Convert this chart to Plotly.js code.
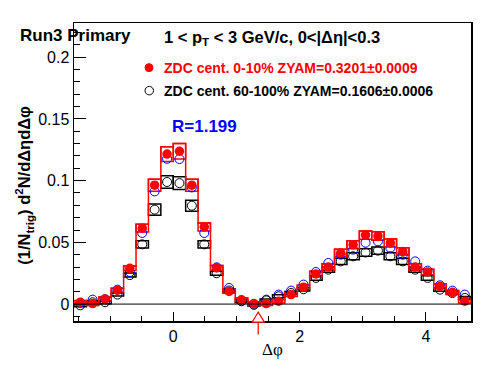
<!DOCTYPE html>
<html>
<head>
<meta charset="utf-8">
<script src="https://cdn.plot.ly/plotly-3.0.1.min.js"></script>
<style>html,body{margin:0;padding:0;background:#fff;}#chart{width:496px;height:374px;}</style>
</head>
<body>
<div id="chart"></div>
<script>
// 32 bins in delta phi from -pi/2 to 3pi/2
var nBins = 32;
var binWidth = Math.PI / 16;
var dphi = [];
for (var i = 0; i < nBins; i++) dphi.push(-Math.PI / 2 + (i + 0.5) * binWidth);

// ZDC cent. 0-10% (red, filled)
var central = [0.0015, 0.0004, 0.0042, 0.0113, 0.0290, 0.0615, 0.0963, 0.1215,
               0.1238, 0.0963, 0.0625, 0.0294, 0.0102, 0.0035, 0.0004, 0.0004,
               0.0023, 0.0077, 0.0137, 0.0244, 0.0301, 0.0414, 0.0481, 0.0559,
               0.0551, 0.0495, 0.0427, 0.0301, 0.0260, 0.0144, 0.0095, 0.0023];
var centralSys = [0.0015, 0.0015, 0.0015, 0.0015, 0.0018, 0.0032, 0.0048, 0.0060,
                  0.0062, 0.0048, 0.0032, 0.0018, 0.0015, 0.0015, 0.0015, 0.0015,
                  0.0015, 0.0015, 0.0016, 0.0022, 0.0026, 0.0030, 0.0032, 0.0034,
                  0.0034, 0.0032, 0.0030, 0.0026, 0.0022, 0.0018, 0.0015, 0.0015];
// ZDC cent. 60-100% (black, open)
var peripheral = [-0.0010, 0.0015, 0.0015, 0.0077, 0.0235, 0.0484, 0.0765, 0.0989,
                  0.0980, 0.0797, 0.0484, 0.0250, 0.0110, 0.0023, -0.0004, 0.0030,
                  0.0063, 0.0090, 0.0120, 0.0212, 0.0279, 0.0346, 0.0387, 0.0418,
                  0.0433, 0.0387, 0.0346, 0.0279, 0.0212, 0.0117, 0.0090, 0.0050];
var peripheralSys = [0.0012, 0.0012, 0.0012, 0.0012, 0.0016, 0.0030, 0.0045, 0.0051,
                     0.0051, 0.0045, 0.0030, 0.0016, 0.0012, 0.0012, 0.0012, 0.0012,
                     0.0012, 0.0012, 0.0014, 0.0018, 0.0022, 0.0026, 0.0028, 0.0030,
                     0.0030, 0.0028, 0.0026, 0.0022, 0.0018, 0.0014, 0.0012, 0.0012];
// scaled peripheral (blue, open dashed)
var scaled = [0.0010, 0.0036, 0.0040, 0.0117, 0.0260, 0.0576, 0.0913, 0.1177,
              0.1175, 0.0945, 0.0576, 0.0298, 0.0131, 0.0028, -0.0005, 0.0036,
              0.0077, 0.0109, 0.0158, 0.0260, 0.0333, 0.0400, 0.0441, 0.0497,
              0.0508, 0.0455, 0.0400, 0.0346, 0.0271, 0.0152, 0.0109, 0.0077];
var zyamPos = 1.345;

var legendLabels = ["ZDC cent. 0-10% ZYAM=0.3201\u00B10.0009",
                    "ZDC cent. 60-100% ZYAM=0.1606\u00B10.0006"];
var ratioLabel = "R=1.199";
var xTitle = "\u0394\u03C6";
var yTitle = "(1/N<sub>trig</sub>) d<sup>2</sup>N/d\u0394\u03B7d\u0394\u03C6";

function boxes(vals, sys, color) {
  return {
    type: 'bar', x: dphi,
    base: vals.map(function (v, k) { return v - sys[k]; }),
    y: sys.map(function (s) { return 2 * s; }),
    width: binWidth,
    marker: {color: 'rgba(0,0,0,0)', line: {color: color, width: 1.5}},
    hoverinfo: 'skip', showlegend: false
  };
}

var traces = [
  boxes(peripheral, peripheralSys, 'black'),
  boxes(central, centralSys, 'red'),
  {type: 'scatter', mode: 'lines', x: dphi,
   y: central.map(function (v, k) { return v + centralSys[k]; }),
   line: {shape: 'hvh', color: 'red', width: 1.5}, hoverinfo: 'skip', showlegend: false},
  {type: 'scatter', mode: 'markers', x: dphi, y: scaled,
   marker: {symbol: 'circle-open', size: 9, color: 'blue', line: {width: 1, color: 'blue'}}, showlegend: false},
  {type: 'scatter', mode: 'markers', x: dphi, y: peripheral,
   marker: {symbol: 'circle-open', size: 9, color: 'black', line: {width: 1, color: 'black'}}, showlegend: false},
  {type: 'scatter', mode: 'markers', x: dphi, y: central,
   error_y: {type: 'constant', value: 0.0008, color: 'red', thickness: 1, width: 0},
   marker: {symbol: 'circle', size: 9.5, color: 'red'}, showlegend: false}
];

var W = 496, H = 374, L = 74, R = 25, T = 23, B = 52.5;
var pw = W - L - R, ph = H - T - B;
function px(x) { return (x - L) / pw; }
function py(y) { return (H - B - y) / ph; }

var font = 'Liberation Sans, Arial, Helvetica, sans-serif';
var layout = {
  width: W, height: H,
  margin: {l: L, r: R, t: T, b: B, pad: 0},
  paper_bgcolor: 'white', plot_bgcolor: 'white',
  barmode: 'overlay',
  showlegend: false,
  xaxis: {
    range: [-Math.PI / 2, 3 * Math.PI / 2],
    showgrid: false, zeroline: false,
    showline: true, linecolor: 'black', linewidth: 1.5, mirror: true,
    ticks: 'inside', ticklen: 9, tickcolor: 'black', tickwidth: 1,
    tick0: 0, dtick: 2,
    minor: {ticks: 'inside', ticklen: 5, dtick: 0.5, tickcolor: 'black', tickwidth: 1, showgrid: false},
    tickfont: {family: font, size: 16, color: 'black'}
  },
  yaxis: {
    range: [-0.0137, 0.2277],
    showgrid: false, zeroline: false,
    showline: true, linecolor: 'black', linewidth: 1.5, mirror: true,
    ticks: 'inside', ticklen: 12, tickcolor: 'black', tickwidth: 1,
    tick0: 0, dtick: 0.05,
    minor: {ticks: 'inside', ticklen: 6, dtick: 0.01, tickcolor: 'black', tickwidth: 1, showgrid: false},
    tickfont: {family: font, size: 16, color: 'black'}
  },
  shapes: [
    {type: 'line', xref: 'paper', yref: 'y', x0: 0, x1: 1, y0: 0, y1: 0, line: {color: 'black', width: 1}},
    // ZYAM arrow
    {type: 'line', xref: 'x', yref: 'paper', xsizemode: 'pixel', ysizemode: 'pixel', xanchor: zyamPos, yanchor: 0,
     x0: 0, x1: 0, y0: -1.2, y1: -13.5, line: {color: 'red', width: 1.2}},
    {type: 'path', xref: 'x', yref: 'paper', xsizemode: 'pixel', ysizemode: 'pixel', xanchor: zyamPos, yanchor: 0,
     path: 'M -6.2 -1.2 L 0 8.8 L 6.2 -1.2 Z', fillcolor: 'white', line: {color: 'red', width: 1.2}},
    // legend markers
    {type: 'circle', xref: 'paper', yref: 'paper', x0: px(145), x1: px(153), y0: py(71.7), y1: py(63.7),
     fillcolor: 'red', line: {color: 'red', width: 1}},
    {type: 'circle', xref: 'paper', yref: 'paper', x0: px(145), x1: px(153.5), y0: py(95), y1: py(86.5),
     fillcolor: 'white', line: {color: 'black', width: 1}}
  ],
  annotations: [
    {text: '<b>Run3 Primary</b>', xref: 'paper', yref: 'paper', x: px(18), y: py(36), xanchor: 'left', yanchor: 'middle',
     showarrow: false, font: {family: font, size: 17, color: 'black'}},
    {text: '<b>1 < p<sub>T</sub> < 3 GeV/c, 0<|\u0394\u03B7|<0.3</b>', xref: 'paper', yref: 'paper', x: px(162), y: py(38.5), xanchor: 'left', yanchor: 'middle',
     showarrow: false, font: {family: font, size: 16.5, color: 'black'}},
    {text: '<b>' + legendLabels[0] + '</b>', xref: 'paper', yref: 'paper', x: px(162), y: py(68.3), xanchor: 'left', yanchor: 'middle',
     showarrow: false, font: {family: font, size: 14, color: 'red'}},
    {text: '<b>' + legendLabels[1] + '</b>', xref: 'paper', yref: 'paper', x: px(162), y: py(90.7), xanchor: 'left', yanchor: 'middle',
     showarrow: false, font: {family: font, size: 14, color: 'black'}},
    {text: '<b>' + ratioLabel + '</b>', xref: 'paper', yref: 'paper', x: px(204), y: py(127), xanchor: 'center', yanchor: 'middle',
     showarrow: false, font: {family: font, size: 17, color: 'blue'}},
    {text: xTitle, xref: 'paper', yref: 'paper', x: px(272), y: py(350), xanchor: 'center', yanchor: 'middle',
     showarrow: false, font: {family: 'Liberation Serif, Times New Roman, serif', size: 17, color: 'black'}},
    {text: '<b>' + yTitle + '</b>', textangle: -90, xref: 'paper', yref: 'paper', x: px(24), y: py(186), xanchor: 'center', yanchor: 'middle',
     showarrow: false, font: {family: font, size: 16.5, color: 'black'}}
  ]
};

Plotly.newPlot('chart', traces, layout, {displayModeBar: false, staticPlot: true});
</script>
</body>
</html>
